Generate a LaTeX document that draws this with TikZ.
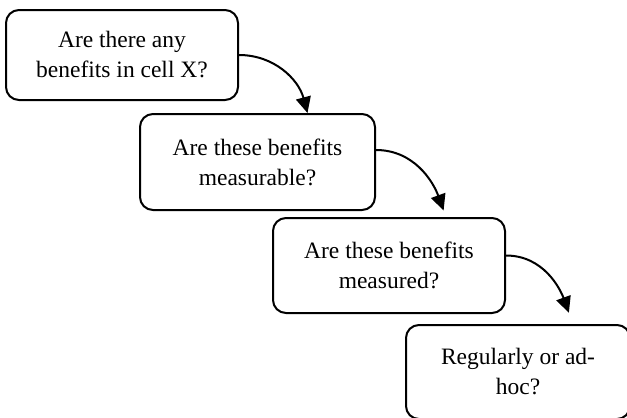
\documentclass[tikz,border=0pt]{standalone}
\usepackage{fontspec}
\setmainfont{Liberation Serif}
\usetikzlibrary{arrows.meta}

\begin{document}
\begin{tikzpicture}[x=1pt,y=-1pt,
    qbox/.style={draw,line width=2pt,rounded corners=13pt,align=center,
        minimum width=232pt,minimum height=94pt,
        font=\fontsize{23.5}{30}\selectfont},
    flow/.style={line width=2pt,-{Triangle[width=15pt,length=16pt]}}]
    \useasboundingbox (0,0) rectangle (627,418);

    \node[qbox,minimum height=90pt] (b1) at (122,55) {Are there any\\benefits in cell X?};
    \node[qbox,minimum width=235pt,minimum height=96pt] (b2) at (257.5,162) {Are these benefits\\measurable?};
    \node[qbox,minimum height=95pt] (b3) at (389,265.5) {Are these benefits\\measured?};
    \node[qbox,minimum width=224pt] (b4) at (518,372) {Regularly or ad-\\hoc?};

    \draw[flow] (b1.east) to[out=0,in=105] ([xshift=50pt]b2.north);
    \draw[flow,shorten >=7pt] ([yshift=12pt]b2.east) to[out=0,in=110] ([xshift=57pt]b3.north);
    \draw[flow,shorten >=12pt] ([yshift=10pt]b3.east) to[out=0,in=110] ([xshift=55pt]b4.north);
\end{tikzpicture}
\end{document}
